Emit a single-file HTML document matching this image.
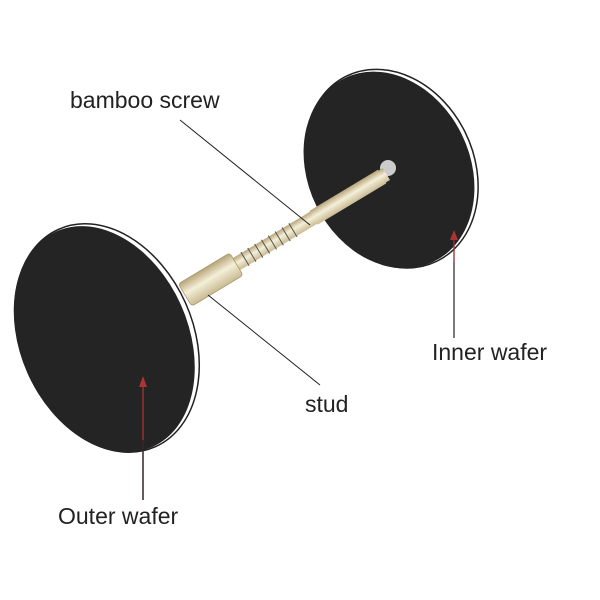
<!DOCTYPE html>
<html><head><style>body{margin:0;background:#fff}svg{display:block}text{font-family:"Liberation Sans",sans-serif;font-size:23px;fill:#222}</style></head>
<body>
<svg width="600" height="600" viewBox="0 0 600 600">
<defs>
<linearGradient id="sh" x1="0" y1="0" x2="0" y2="1">
<stop offset="0" stop-color="#b8a57a"/><stop offset="0.45" stop-color="#f4efd8"/><stop offset="1" stop-color="#c9bb93"/>
</linearGradient>
</defs>
<!-- inner wafer -->
<g transform="translate(389,170) rotate(-26)">
<ellipse cx="3" cy="0" rx="82" ry="103" fill="#fff" stroke="#222" stroke-width="1.5"/>
<ellipse cx="0" cy="0" rx="81" ry="102" fill="#242424"/>
</g>
<circle cx="388" cy="168" r="8" fill="#ccc"/>
<!-- shaft -->
<g transform="translate(185,295) rotate(-31)">
<rect x="0" y="-7" width="235" height="14" fill="url(#sh)"/>
<rect x="150" y="-8" width="80" height="16" fill="url(#sh)"/>
<rect x="0" y="-13" width="60" height="26" rx="3" fill="url(#sh)" stroke="#a89868" stroke-width="0.8"/>
<g stroke="#555" stroke-width="1">
<line x1="70" y1="-8" x2="70" y2="8"/><line x1="78" y1="-8" x2="78" y2="8"/><line x1="86" y1="-8" x2="86" y2="8"/><line x1="94" y1="-8" x2="94" y2="8"/><line x1="102" y1="-8" x2="102" y2="8"/><line x1="110" y1="-8" x2="110" y2="8"/><line x1="118" y1="-8" x2="118" y2="8"/><line x1="126" y1="-8" x2="126" y2="8"/>
</g>
</g>
<!-- outer wafer -->
<g transform="translate(107,338) rotate(-24)">
<ellipse cx="0" cy="0" rx="86" ry="119" fill="#fff" stroke="#222" stroke-width="1.5"/>
<ellipse cx="-3" cy="0" rx="84" ry="118" fill="#242424"/>
</g>
<!-- leader lines -->
<line x1="180" y1="120" x2="310" y2="225" stroke="#222" stroke-width="1"/>
<line x1="208" y1="295" x2="320" y2="385" stroke="#222" stroke-width="1"/>
<line x1="454" y1="232" x2="454" y2="338" stroke="#222" stroke-width="1.2"/>
<line x1="454" y1="232" x2="454" y2="262" stroke="#a33" stroke-width="1.2"/>
<polygon points="454,230 450,240 458,240" fill="#a33"/>
<line x1="143" y1="378" x2="143" y2="500" stroke="#a33" stroke-width="1.3"/>
<line x1="143" y1="440" x2="143" y2="500" stroke="#222" stroke-width="1.3"/>
<polygon points="143,376 139,387 147,387" fill="#a33"/>
<text x="70" y="108">bamboo screw</text>
<text x="305" y="412">stud</text>
<text x="432" y="360">Inner wafer</text>
<text x="58" y="524">Outer wafer</text>
</svg>
</body></html>
